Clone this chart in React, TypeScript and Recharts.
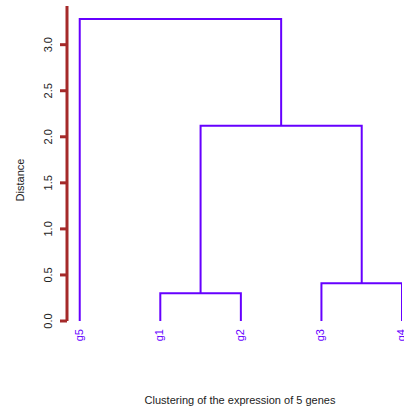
import React from 'react';
import { ComposedChart, Line, XAxis, YAxis } from 'recharts';

// leaves in plotting order, and the merge steps (like hclust's merge matrix)
const leafLabels = ['g5', 'g1', 'g2', 'g3', 'g4'];
const mergeLeft = ['g1', 'g3', 'm1', 'g5'];
const mergeRight = ['g2', 'g4', 'm2', 'm3'];
const mergeHeights = [0.3, 0.41, 2.12, 3.28];
const distanceTicks = [0, 0.5, 1, 1.5, 2, 2.5, 3];
const leafTicks = leafLabels.map((_, i) => i + 1);

const TREE_COLOR = '#6600ff';
const AXIS_COLOR = '#a52a2a';
const FONT = '"Liberation Sans", Arial, Helvetica, sans-serif';

// x position + height of each node, then one U-shaped branch per merge
const nodePos: Record<string, { x: number; h: number }> = {};
leafLabels.forEach((name, i) => {
  nodePos[name] = { x: i + 1, h: 0 };
});
const branches = mergeHeights.map((h, i) => {
  const l = nodePos[mergeLeft[i]];
  const r = nodePos[mergeRight[i]];
  nodePos['m' + (i + 1)] = { x: (l.x + r.x) / 2, h };
  return [
    { x: l.x, y: l.h },
    { x: l.x, y: h },
    { x: r.x, y: h },
    { x: r.x, y: r.h },
  ];
});

const DistanceTick = ({ y, payload }: any) => (
  <text
    transform={`translate(52, ${y}) rotate(-90)`}
    textAnchor="middle"
    fontSize={11}
    fontFamily={FONT}
    fill="#222"
  >
    {Number(payload.value).toFixed(1)}
  </text>
);

const LeafTick = ({ x, payload }: any) => (
  <text
    transform={`translate(${x}, 329) rotate(-90)`}
    textAnchor="end"
    dy={3}
    fontSize={11}
    fontFamily={FONT}
    fill={TREE_COLOR}
  >
    {leafLabels[payload.value - 1]}
  </text>
);

const YTitle = () => (
  <text
    transform="translate(24, 180) rotate(-90)"
    textAnchor="middle"
    fontSize={11}
    fontFamily={FONT}
    fill="#222"
  >
    Distance
  </text>
);

const XTitle = () => (
  <text x={240} y={404} textAnchor="middle" fontSize={11} fontFamily={FONT} fill="#222">
    Clustering of the expression of 5 genes
  </text>
);

export default function App() {
  return (
    <div style={{ position: 'absolute', left: 0, top: 0, background: '#fff' }}>
      <ComposedChart width={404} height={410} margin={{ top: 6, right: 2, bottom: 59, left: 0 }}>
        <XAxis
          type="number"
          dataKey="x"
          domain={[0.842, 5]}
          ticks={leafTicks}
          interval={0}
          axisLine={false}
          tickLine={false}
          height={30}
          tick={<LeafTick />}
          label={<XTitle />}
          allowDataOverflow
        />
        <YAxis
          type="number"
          domain={[0, 3.42]}
          ticks={distanceTicks}
          interval={0}
          width={67}
          tickSize={7}
          axisLine={{ stroke: AXIS_COLOR, strokeWidth: 3 }}
          tickLine={{ stroke: AXIS_COLOR, strokeWidth: 3 }}
          tick={<DistanceTick />}
          label={<YTitle />}
          allowDataOverflow
        />
        {branches.map((pts, i) => (
          <Line
            key={i}
            data={pts}
            dataKey="y"
            type="linear"
            stroke={TREE_COLOR}
            strokeWidth={2}
            dot={false}
            activeDot={false}
            isAnimationActive={false}
          />
        ))}
      </ComposedChart>
    </div>
  );
}
